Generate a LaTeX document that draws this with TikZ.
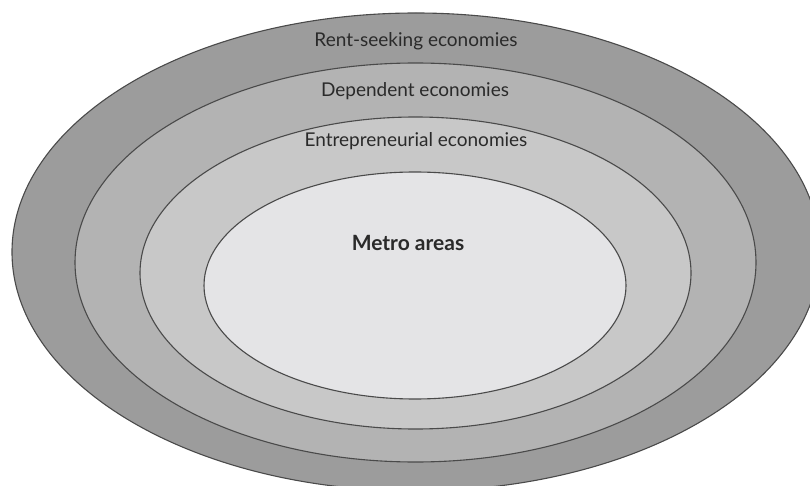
\documentclass[tikz,border=0pt]{standalone}
\usepackage{fontspec}
\setmainfont{Lato}
\definecolor{ringline}{HTML}{4A4A4A}
\definecolor{ringA}{HTML}{9C9C9C}
\definecolor{ringB}{HTML}{B3B3B3}
\definecolor{ringC}{HTML}{C8C8C8}
\definecolor{ringD}{HTML}{E4E4E6}
\definecolor{labeltext}{HTML}{2A2A2A}
\begin{document}
\begin{tikzpicture}[x=1pt,y=-1pt,
  ring/.style={draw=ringline, line width=1.1pt},
  lbl/.style={font=\fontsize{19}{22}\selectfont, text=labeltext, inner sep=0pt}]
\useasboundingbox (0,0) rectangle (810,486);
\clip (0,0) rectangle (810,486);
\fill[white] (0,0) rectangle (810,486);
\draw[ring, fill=ringA] (416,252) ellipse [x radius=404, y radius=239];
\draw[ring, fill=ringB] (415.5,262.5) ellipse [x radius=340.5, y radius=199.5];
\draw[ring, fill=ringC] (415.5,273) ellipse [x radius=275.5, y radius=156];
\draw[ring, fill=ringD] (415,285.5) ellipse [x radius=211, y radius=113.5];
\node[lbl] (rent) at (416,41) {Rent-seeking economies};
\node[lbl] (dep) at (415,91) {Dependent economies};
\node[lbl] (ent) at (416,141) {Entrepreneurial economies};
\node[lbl, font=\fontsize{21}{24}\selectfont\bfseries] (metro) at (408,243) {Metro areas};
\end{tikzpicture}
\end{document}
